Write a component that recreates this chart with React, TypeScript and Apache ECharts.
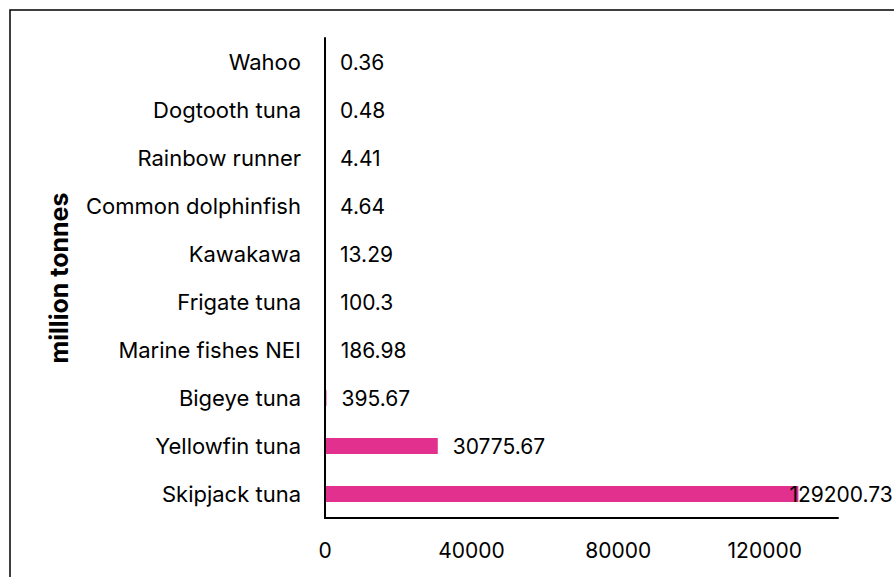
import React, { useEffect, useRef } from "react";
import * as echarts from "echarts";

// Catch by species, listed top to bottom
const species = [
  "Wahoo",
  "Dogtooth tuna",
  "Rainbow runner",
  "Common dolphinfish",
  "Kawakawa",
  "Frigate tuna",
  "Marine fishes NEI",
  "Bigeye tuna",
  "Yellowfin tuna",
  "Skipjack tuna",
];
const catchValues = [0.36, 0.48, 4.41, 4.64, 13.29, 100.3, 186.98, 395.67, 30775.67, 129200.73];
const xTicks = [0, 40000, 80000, 120000];

const FONT = "Inter, 'Noto Sans', sans-serif";

export default function App() {
  const ref = useRef<HTMLDivElement>(null);

  useEffect(() => {
    if (!ref.current) return;
    const chart = echarts.init(ref.current, undefined, { renderer: "svg" });
    const step = xTicks[1] - xTicks[0];
    chart.setOption({
      animation: false,
      textStyle: { fontFamily: FONT },
      graphic: [
        {
          type: "rect",
          shape: { x: 10, y: 10, width: 1000, height: 1000 },
          style: { fill: "none", stroke: "#000", lineWidth: 1.5 },
          silent: true,
        },
      ],
      grid: { left: 325, right: 56, top: 38, bottom: 59, containLabel: false },
      xAxis: {
        type: "value",
        min: xTicks[0],
        max: 140000,
        interval: step,
        axisLine: { show: true, lineStyle: { color: "#000", width: 2 } },
        axisTick: { show: false },
        splitLine: { show: false },
        axisLabel: {
          color: "#000",
          fontSize: 21,
          fontFamily: FONT,
          margin: 22,
          showMaxLabel: false,
          formatter: (v: number) => String(v),
        },
      },
      yAxis: {
        type: "category",
        data: species,
        inverse: true,
        z: 5,
        name: "million tonnes",
        nameLocation: "middle",
        nameGap: 254,
        nameRotate: 90,
        nameTextStyle: { color: "#000", fontSize: 25, fontWeight: "bold", fontFamily: FONT },
        axisLine: { show: true, lineStyle: { color: "#000", width: 2 } },
        axisTick: { show: false },
        axisLabel: { color: "#000", fontSize: 22, fontFamily: FONT, margin: 24 },
      },
      series: [
        {
          type: "bar",
          data: catchValues.map((v, i) => ({
            value: v,
            label: i === catchValues.length - 1 ? { offset: [-24, 0] } : undefined,
          })),
          barWidth: 16,
          itemStyle: { color: "#E2308F" },
          label: {
            show: true,
            position: "right",
            distance: 15,
            color: "#000",
            fontSize: 21,
            fontFamily: FONT,
          },
        },
      ],
    });
    return () => chart.dispose();
  }, []);

  return (
    <div
      ref={ref}
      style={{ position: "fixed", left: 0, top: 0, width: 894, height: 577, background: "#fff" }}
    />
  );
}
